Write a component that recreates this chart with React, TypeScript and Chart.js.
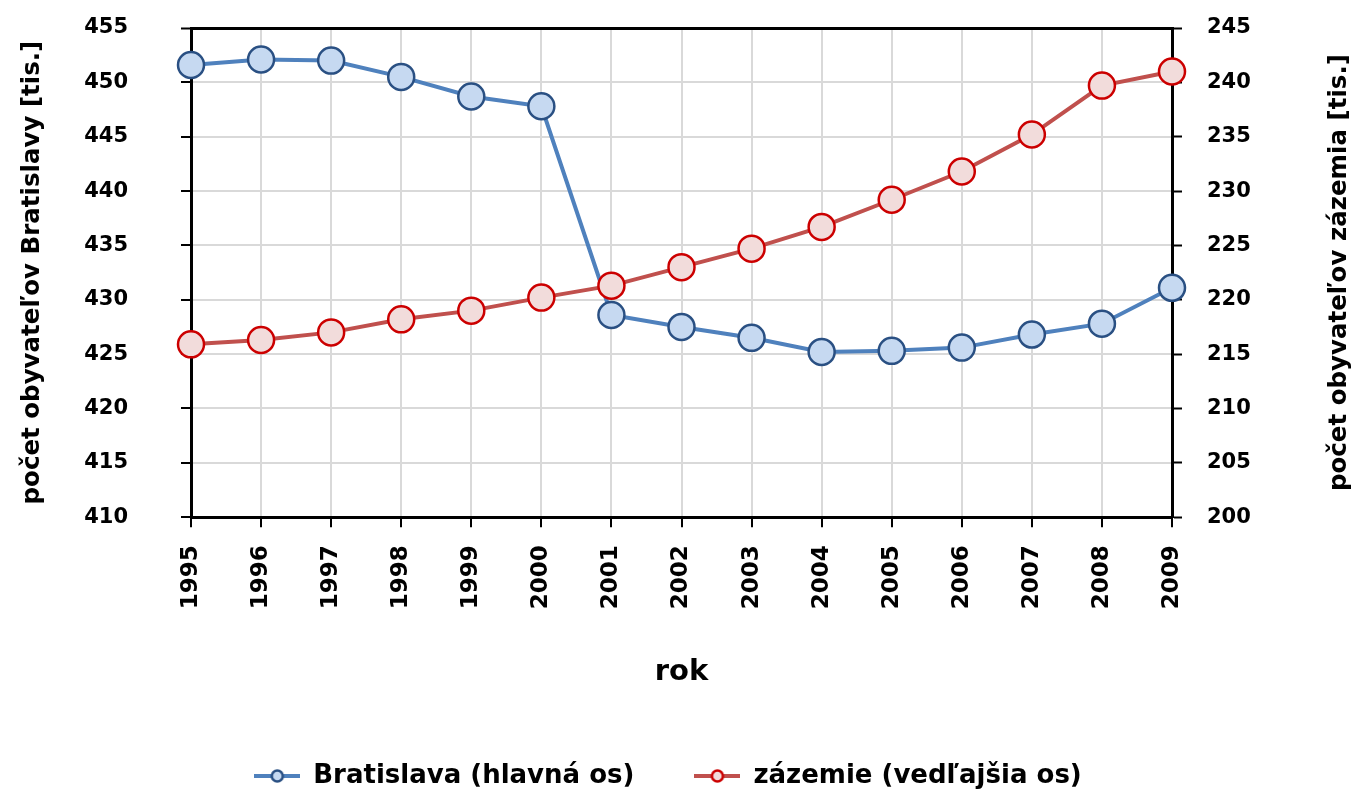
import React, { useEffect, useRef } from "react";
import { Chart, registerables } from "chart.js";

Chart.register(...registerables);

const years = ["1995","1996","1997","1998","1999","2000","2001","2002","2003","2004","2005","2006","2007","2008","2009"];
const bratislava = [451.6, 452.1, 452.0, 450.5, 448.7, 447.8, 428.6, 427.5, 426.5, 425.2, 425.3, 425.6, 426.8, 427.8, 431.1];
const zazemie = [215.9, 216.3, 217.0, 218.2, 219.0, 220.2, 221.3, 223.0, 224.7, 226.7, 229.2, 231.8, 235.2, 239.7, 241.0];
const leftTitle = "počet obyvateľov Bratislavy [tis.]";
const rightTitle = "počet obyvateľov zázemia [tis.]";
const xTitle = "rok";
const seriesNames = ["Bratislava (hlavná os)", "zázemie (vedľajšia os)"];

const FONT = "'DejaVu Sans', sans-serif";
const BLUE_LINE = "#4F81BD";
const BLUE_FILL = "#C6D9F1";
const BLUE_BORDER = "#2A5083";
const RED_LINE = "#C0504D";
const RED_FILL = "#F2DCDB";
const RED_BORDER = "#CC0000";

function legendSymbol(line: string, fill: string, border: string) {
  const c = document.createElement("canvas");
  c.width = 46;
  c.height = 16;
  const ctx = c.getContext("2d")!;
  ctx.strokeStyle = line;
  ctx.lineWidth = 4;
  ctx.beginPath();
  ctx.moveTo(0, 8);
  ctx.lineTo(46, 8);
  ctx.stroke();
  ctx.beginPath();
  ctx.arc(23, 8, 5.5, 0, Math.PI * 2);
  ctx.fillStyle = fill;
  ctx.fill();
  ctx.lineWidth = 2.5;
  ctx.strokeStyle = border;
  ctx.stroke();
  return c;
}

const axisTitlesPlugin = {
  id: "axisTitles",
  afterDraw(chart: any) {
    const area = chart.chartArea;
    const ctx = chart.ctx;
    const cy = (area.top + area.bottom) / 2;
    const draw = (text: string, x: number) => {
      ctx.save();
      ctx.translate(x, cy);
      ctx.rotate(-Math.PI / 2);
      ctx.font = `bold 24.5px ${FONT}`;
      ctx.fillStyle = "#000";
      ctx.textAlign = "center";
      ctx.textBaseline = "middle";
      ctx.fillText(text, 0, 0);
      ctx.restore();
    };
    draw(leftTitle, 33);
    draw(rightTitle, chart.width - 17);
  },
};

export default function App() {
  const ref = useRef<HTMLCanvasElement>(null);
  useEffect(() => {
    const symbols = [
      legendSymbol(BLUE_LINE, BLUE_FILL, BLUE_BORDER),
      legendSymbol(RED_LINE, RED_FILL, RED_BORDER),
    ];
    const chart = new Chart(ref.current!, {
      type: "line",
      data: {
        labels: years,
        datasets: [
          {
            label: seriesNames[0],
            data: bratislava,
            yAxisID: "y",
            borderColor: BLUE_LINE,
            borderWidth: 4,
            pointBackgroundColor: BLUE_FILL,
            pointBorderColor: BLUE_BORDER,
            pointBorderWidth: 2.5,
            pointRadius: 13,
            order: 1,
          },
          {
            label: seriesNames[1],
            data: zazemie,
            yAxisID: "y1",
            borderColor: RED_LINE,
            borderWidth: 4,
            pointBackgroundColor: RED_FILL,
            pointBorderColor: RED_BORDER,
            pointBorderWidth: 2.5,
            pointRadius: 13,
            order: 0,
          },
        ],
      },
      options: {
        animation: false,
        responsive: true,
        maintainAspectRatio: false,
        layout: { padding: { top: 28, right: 102, left: 81, bottom: -9 } },
        plugins: {
          tooltip: { enabled: false },
          legend: {
            position: "bottom",
            labels: {
              usePointStyle: true,
              pointStyleWidth: 46,
              padding: 60,
              color: "#000",
              font: { family: FONT, size: 26, weight: "bold" },
              sort: (a: any, b: any) => a.datasetIndex - b.datasetIndex,
              generateLabels: (chart: any) => {
                const items = Chart.defaults.plugins.legend.labels.generateLabels(chart);
                items.forEach((it: any) => {
                  it.pointStyle = symbols[it.datasetIndex];
                });
                return items;
              },
            },
          },
        },
        scales: {
          x: {
            offset: false,
            afterFit: (s: any) => {
              s.paddingLeft = 0;
              s.paddingRight = 0;
            },
            grid: {
              color: "#D9D9D9",
              lineWidth: 2,
              tickColor: "#000",
              tickLength: 10,
              tickWidth: 2,
            },
            border: { color: "#000", width: 3 },
            ticks: {
              color: "#000",
              maxRotation: 90,
              minRotation: 90,
              padding: 18,
              font: { family: FONT, size: 23, weight: "bold" },
            },
            title: {
              display: true,
              text: xTitle,
              color: "#000",
              font: { family: FONT, size: 29, weight: "bold" },
              padding: { top: 28, bottom: 13 },
            },
          },
          y: {
            position: "left",
            min: 410,
            max: 455,
            afterFit: (s: any) => {
              s.width = 110;
              s.paddingTop = 0;
              s.paddingBottom = 0;
            },
            grid: {
              color: (c: any) => (c.tick && c.tick.value === 455 ? "#000" : "#D9D9D9"),
              lineWidth: (c: any) => (c.tick && c.tick.value === 455 ? 3 : 2),
              tickColor: "#000",
              tickLength: 10,
              tickWidth: 2,
            },
            border: { color: "#000", width: 3 },
            ticks: {
              stepSize: 5,
              color: "#000",
              padding: 53,
              font: { family: FONT, size: 21, weight: "bold" },
            },
          },
          y1: {
            position: "right",
            min: 200,
            max: 245,
            afterFit: (s: any) => {
              s.width = 83;
              s.paddingTop = 0;
              s.paddingBottom = 0;
            },
            grid: {
              drawOnChartArea: false,
              tickColor: "#000",
              tickLength: 10,
              tickWidth: 2,
            },
            border: { color: "#000", width: 3 },
            ticks: {
              stepSize: 5,
              color: "#000",
              padding: 25,
              font: { family: FONT, size: 21, weight: "bold" },
            },
          },
        },
      },
      plugins: [axisTitlesPlugin],
    } as any);
    return () => chart.destroy();
  }, []);
  return (
    <div style={{ position: "absolute", left: 0, top: 0, width: 1357, height: 790, background: "#fff" }}>
      <canvas ref={ref} />
    </div>
  );
}
